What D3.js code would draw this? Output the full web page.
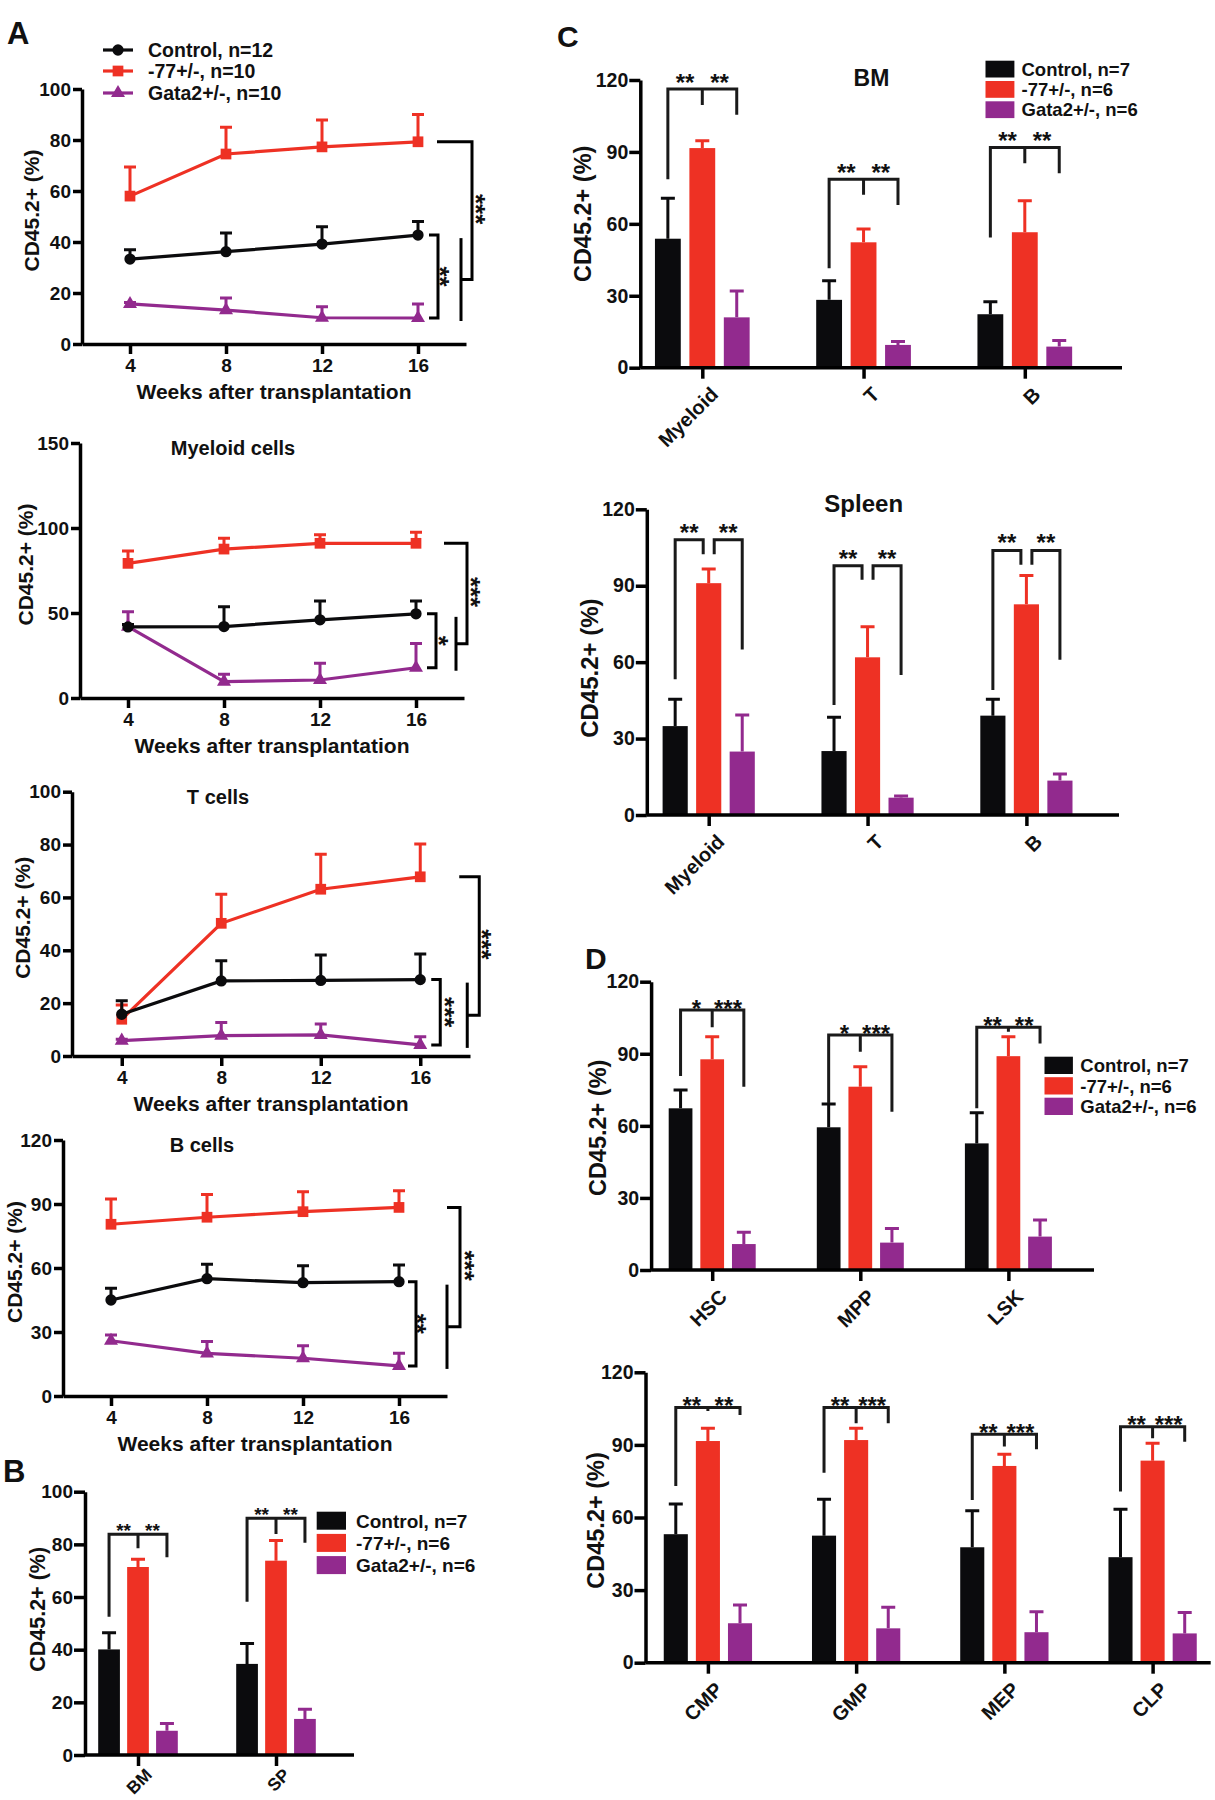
<!DOCTYPE html>
<html>
<head>
<meta charset="utf-8">
<script src="https://cdn.jsdelivr.net/npm/d3@7"></script>
<style>
  body { margin: 0; background: #fff; }
  svg { display: block; }
</style>
</head>
<body>
<svg id="fig" width="1215" height="1800"></svg>
<script>
// ---- data ----
const weeks = [4, 8, 12, 16];
const groupColors = ["#0b0b0d", "#ee3124", "#922a8e"];
const lineLegend = ["Control, n=12", "-77+/-, n=10", "Gata2+/-, n=10"];
const barLegend = ["Control, n=7", "-77+/-, n=6", "Gata2+/-, n=6"];

// A, rows = Control, -77+/-, Gata2+/-
const totalMean = [[33.3, 36.2, 39.2, 42.7], [58, 74.5, 77.3, 79.3], [15.7, 13.3, 10.3, 10.2]];
const totalSem = [[3.7, 7.3, 6.8, 5.3], [11.4, 10.5, 10.5, 10.7], [0.6, 4.7, 4.3, 5.5]];
const myeloidMean = [[41.8, 42, 46, 49.5], [79.2, 87.6, 91, 91], [42, 9.6, 10.6, 17.8]];
const myeloidSem = [[1.5, 11.7, 11, 7.5], [7.3, 6.4, 5, 6.5], [8.8, 4.4, 9.8, 14.2]];
const tMean = [[15.8, 28.4, 28.6, 28.9], [13.9, 50.2, 63.1, 67.8], [5.8, 7.7, 8, 4.2]];
const tSem = [[5.1, 7.6, 9.6, 9.7], [5.4, 11, 13.2, 12.4], [0.5, 5, 4.1, 3.1]];
const bMean = [[45, 55, 53.1, 53.6], [80.5, 83.8, 86.4, 88.4], [25.9, 20, 17.7, 14.1]];
const bSem = [[5.5, 6.7, 8, 7.8], [11.8, 10.7, 9.4, 7.8], [2.7, 5.5, 5.9, 5.9]];

// B
const organCats = ["BM", "SP"];
const organMean = [[40.1, 34.6], [71.4, 73.8], [9.2, 13.7]];
const organSem = [[6.3, 7.7], [2.9, 7.7], [2.8, 3.7]];
// brackets: [top, left leg end, middle leg end, right leg end]
const organSig = [[83.8, 52.5, 78.5, 75.1], [89.9, 58.2, 83.9, 80.6]];
const organStars = [["**", "**"], ["**", "**"]];

// C
const lineageCats = ["Myeloid", "T", "B"];
const bmMean = [[53.8, 28.3, 22.3], [91.6, 52.3, 56.5], [21, 9.5, 8.8]];
const bmSem = [[16.9, 8, 5.2], [3.1, 5.5, 13.1], [11, 1.4, 2.5]];
const bmSig = [[116.2, 78.6, 109.6, 105.5], [78.6, 41.5, 72.1, 67.9], [91.8, 54.3, 85.3, 81.1]];
const bmStars = [["**", "**"], ["**", "**"], ["**", "**"]];
const spMean = [[34.9, 25.1, 39], [91, 61.9, 82.7], [24.9, 6.8, 13.5]];
const spSem = [[10.5, 13.3, 6.4], [5.6, 12, 11.3], [14.4, 0.7, 2.6]];
const spSig = [[108, 53.3, 102.4, 65], [97.8, 43.2, 92.3, 55], [103.8, 49.1, 98.2, 60.9]];
const spStars = [["**", "**"], ["**", "**"], ["**", "**"]];

// D
const stemCats = ["HSC", "MPP", "LSK"];
const stemMean = [[67.3, 59.4, 52.7], [87.7, 76.3, 89], [10.8, 11.4, 13.9]];
const stemSem = [[7.6, 9.7, 12.8], [9.4, 8.3, 8.1], [4.9, 5.9, 6.9]];
const stemSig = [[108.2, 80.7, 101, 76.3], [97.8, 69.4, 90.8, 65.9], [101, 67.3, 99.2, 94.3]];
const stemStars = [["*", "***"], ["*", "***"], ["**", "**"]];
const progCats = ["CMP", "GMP", "MEP", "CLP"];
const progMean = [[53.1, 52.5, 47.7, 43.6], [91.6, 92, 81.3, 83.5], [16.3, 14.2, 12.6, 12.1]];
const progSem = [[12.5, 15, 15.1, 19.8], [5.3, 4.9, 4.8, 7.2], [7.5, 8.7, 8.5, 8.6]];
const progSig = [[105.5, 73, 104, 102.4], [105.5, 78.5, 98.9, 98.9], [94.4, 67.2, 89.3, 88.2], [97.5, 70.7, 92.7, 91.3]];
const progStars = [["**", "**"], ["**", "***"], ["**", "***"], ["**", "***"]];

// ---- drawing ----
const FONT = '"Liberation Sans", Arial, sans-serif';
const INK = "#111";
const svg = d3.select("#fig");

function styleAxis(g, size) {
  g.attr("font-size", null).attr("font-family", null);
  g.select(".domain").attr("stroke", "#000").attr("stroke-width", 3.5);
  g.selectAll(".tick line").attr("stroke", "#000").attr("stroke-width", 3.5);
  g.selectAll(".tick text").attr("fill", INK).attr("font-size", size)
    .attr("font-family", FONT).attr("font-weight", "bold");
}

function label(x, y, txt, size, anchor) {
  return svg.append("text").attr("x", x).attr("y", y).text(txt)
    .attr("font-size", size).attr("font-weight", "bold").attr("font-family", FONT)
    .attr("fill", INK).attr("text-anchor", anchor || "start");
}

function yTitle(cx, cy, size) {
  svg.append("text").attr("transform", `translate(${cx},${cy}) rotate(-90)`)
    .attr("text-anchor", "middle").attr("dy", "0.33em")
    .attr("font-size", size).attr("font-weight", "bold").attr("font-family", FONT)
    .attr("fill", INK).text("CD45.2+ (%)");
}

function stars(x, y, txt, size, rotate) {
  svg.append("text").attr("transform", `translate(${x},${y})` + (rotate ? " rotate(90)" : ""))
    .attr("text-anchor", "middle").attr("dy", "0.57em")
    .attr("font-size", size).attr("font-weight", "bold").attr("font-family", FONT)
    .attr("fill", INK).text(txt);
}

const symbols = [d3.symbolCircle, d3.symbolSquare, d3.symbolTriangle];
const symbolSizes = [100, 115, 85];

function lineChart(o) {
  const x = d3.scaleLinear().domain([2, 18]).range([o.left, o.right]);
  const y = d3.scaleLinear().domain([0, o.yMax]).range([o.bottom, o.top]);
  const g = svg.append("g");

  [1, 2, 0].forEach(i => {
    const pts = weeks.map((w, j) => ({ w, m: o.mean[i][j], e: o.sem[i][j] }));
    const s = g.append("g").attr("stroke", groupColors[i]).attr("fill", groupColors[i]);
    s.append("path").datum(pts).attr("fill", "none").attr("stroke-width", 3.2)
      .attr("d", d3.line().x(d => x(d.w)).y(d => y(d.m)));
    s.selectAll(null).data(pts).join("path").attr("fill", "none").attr("stroke-width", 3)
      .attr("d", d => `M${x(d.w)},${y(d.m)}V${y(d.m + d.e)}M${x(d.w) - 6},${y(d.m + d.e)}H${x(d.w) + 6}`);
    s.selectAll(null).data(pts).join("path").attr("stroke", "none")
      .attr("transform", d => `translate(${x(d.w)},${y(d.m)})`)
      .attr("d", d3.symbol(symbols[i], symbolSizes[i]));
  });

  g.append("g").attr("transform", `translate(0,${o.bottom})`)
    .call(d3.axisBottom(x).tickValues(weeks).tickSize(10).tickSizeOuter(0).tickPadding(5))
    .call(styleAxis, 19);
  g.append("g").attr("transform", `translate(${o.left},0)`)
    .call(d3.axisLeft(y).tickValues(o.yTicks).tickSize(9).tickSizeOuter(0).tickPadding(2))
    .call(styleAxis, 19);

  label((x(4) + x(16)) / 2, o.bottom + 55, "Weeks after transplantation", 21, "middle");
  yTitle(o.left + o.titleDx, (o.top + o.bottom) / 2 - 6, 21);
  if (o.title) label(o.titleX, o.top + 12, o.title, 20, "middle");

  // significance brackets at the last time point
  const s = o.sig, xe = x(16);
  const yc = y(o.mean[0][3]), yg = y(o.mean[2][3]), yr = y(o.mean[1][3]);
  const mid = (yc + yg) / 2;
  const br = g.append("g").attr("fill", "none").attr("stroke", "#000").attr("stroke-width", 3);
  br.append("path").attr("d", `M${xe + s.in0},${yc}H${xe + s.in1}V${yg}H${xe + s.in0}`);
  br.append("path").attr("d", `M${xe + s.rail},${yc + 3}V${yg + 3}`);
  br.append("path").attr("d", `M${xe + s.out0},${yr}H${xe + s.out1}V${mid + 3}H${xe + s.rail}`);
  stars(xe + s.inLab, mid, s.inStars, 26, true);
  stars(xe + s.outLab, (yr + mid) / 2, s.outStars, 26, true);
}

function barChart(o) {
  const y = d3.scaleLinear().domain([0, o.yMax]).range([o.bottom, o.top]);
  const x = d3.scalePoint().domain(o.cats).range(o.centers);
  const xs = d3.scaleBand().domain([0, 1, 2]).range([-o.groupW / 2, o.groupW / 2]).paddingInner(0.25);
  const bw = xs.bandwidth();
  const g = svg.append("g");

  [0, 1, 2].forEach(i => {
    const rows = o.cats.map((c, j) => ({ c, m: o.mean[i][j], e: o.sem[i][j] }));
    g.selectAll(null).data(rows).join("path").attr("fill", "none")
      .attr("stroke", groupColors[i]).attr("stroke-width", 3)
      .attr("d", d => {
        const cx = x(d.c) + xs(i) + bw / 2, t = y(d.m + d.e);
        return `M${cx},${y(d.m)}V${t}M${cx - 7},${t}H${cx + 7}`;
      });
    g.selectAll(null).data(rows).join("rect")
      .attr("x", d => x(d.c) + xs(i)).attr("width", bw)
      .attr("y", d => y(d.m)).attr("height", d => y(0) - y(d.m))
      .attr("fill", groupColors[i]);
  });

  g.append("g").attr("transform", `translate(${o.left},0)`)
    .call(d3.axisLeft(y).tickValues(o.yTicks).tickSize(11).tickSizeOuter(0).tickPadding(1))
    .call(styleAxis, o.tickFont);
  const xa = g.append("g").attr("transform", `translate(0,${o.bottom})`)
    .call(d3.axisBottom(x).tickSize(11).tickSizeOuter(0).tickFormat(""))
    .call(styleAxis, o.tickFont);
  xa.select(".domain").attr("d", `M${o.left},0H${o.right}`);
  g.selectAll(null).data(o.cats).join("text")
    .attr("transform", c => `translate(${x(c) + o.labelDx},${o.bottom + o.labelDy}) rotate(-45)`)
    .attr("text-anchor", "end").attr("font-size", o.labelFont).attr("font-weight", "bold")
    .attr("font-family", FONT).attr("fill", INK).text(c => c);

  yTitle(o.left + o.titleDx, (o.top + o.bottom) / 2 + o.titleDy, o.titleFont);

  // significance brackets
  const br = g.append("g").attr("fill", "none").attr("stroke", "#1a1a1a").attr("stroke-width", 3);
  o.cats.forEach((c, j) => {
    const [top, l, m, r] = o.sig[j];
    const xl = x(c) + xs(0) + bw / 2, xm = x(c) + xs(1) + bw / 2, xr = x(c) + xs(2) + bw / 2;
    let s1, s2;
    if (o.split) {
      br.append("path").attr("d", `M${xl},${y(l)}V${y(top)}H${xm - 5.5}V${y(m)}`);
      br.append("path").attr("d", `M${xm + 5.5},${y(m)}V${y(top)}H${xr}V${y(r)}`);
      s1 = (xl + xm - 5.5) / 2; s2 = (xm + 5.5 + xr) / 2;
    } else {
      br.append("path").attr("d", `M${xl},${y(l)}V${y(top)}H${xr}V${y(r)}M${xm},${y(top)}V${y(m)}`);
      s1 = (xl + xm) / 2; s2 = (xm + xr) / 2;
    }
    stars(s1, y(top) - o.starGap, o.stars[j][0], o.starFont, false);
    stars(s2, y(top) - o.starGap, o.stars[j][1], o.starFont, false);
  });

  if (o.legend) {
    const L = o.legend;
    barLegend.forEach((t, i) => {
      const ty = L.y + i * L.step;
      svg.append("rect").attr("x", L.x).attr("y", ty).attr("width", L.w).attr("height", L.h)
        .attr("fill", groupColors[i]);
      label(L.tx, ty + L.h / 2, t, L.size).attr("dy", "0.36em");
    });
  }
}

// ---- panel A ----
label(7, 44, "A", 31);
lineChart({
  mean: totalMean, sem: totalSem, left: 82, right: 466, bottom: 344, top: 89,
  yMax: 100, yTicks: [0, 20, 40, 60, 80, 100], titleDx: -50,
  sig: { in0: 11, in1: 20, inLab: 28, rail: 43, out0: 19, out1: 54, outLab: 64, inStars: "**", outStars: "***" }
});
lineLegend.forEach((t, i) => {
  const ly = [50, 71, 93][i];
  svg.append("path").attr("d", `M103,${ly}H133`).attr("stroke", groupColors[i]).attr("stroke-width", 3.2);
  svg.append("path").attr("transform", `translate(118,${ly})`)
    .attr("d", d3.symbol(symbols[i], symbolSizes[i])).attr("fill", groupColors[i]);
  label(148, ly, t, 19.5).attr("dy", "0.36em");
});
lineChart({
  mean: myeloidMean, sem: myeloidSem, left: 80, right: 464, bottom: 698, top: 443,
  yMax: 150, yTicks: [0, 50, 100, 150], title: "Myeloid cells", titleX: 233, titleDx: -54,
  sig: { in0: 11, in1: 20, inLab: 29, rail: 40, out0: 28, out1: 51, outLab: 61, inStars: "*", outStars: "***" }
});
lineChart({
  mean: tMean, sem: tSem, left: 72, right: 470, bottom: 1056, top: 791.7,
  yMax: 100, yTicks: [0, 20, 40, 60, 80, 100], title: "T cells", titleX: 218, titleDx: -49,
  sig: { in0: 11, in1: 20, inLab: 31, rail: 47, out0: 39, out1: 59, outLab: 68, inStars: "***", outStars: "***" }
});
lineChart({
  mean: bMean, sem: bSem, left: 63, right: 447, bottom: 1396, top: 1140,
  yMax: 120, yTicks: [0, 30, 60, 90, 120], title: "B cells", titleX: 202, titleDx: -48,
  sig: { in0: 9, in1: 17, inLab: 24, rail: 48, out0: 48, out1: 61, outLab: 72, inStars: "**", outStars: "***" }
});

// ---- panel B ----
label(3, 1482, "B", 31);
barChart({
  cats: organCats, mean: organMean, sem: organSem, sig: organSig, stars: organStars,
  left: 85, right: 354, bottom: 1755, top: 1491.7, yMax: 100, yTicks: [0, 20, 40, 60, 80, 100],
  centers: [138, 276], groupW: 79.6, tickFont: 19, labelDx: 15, labelDy: 21, labelFont: 17.5,
  titleFont: 21.5, starGap: 8, starFont: 19, titleDx: -47, titleDy: -14,
  legend: { x: 316.7, y: 1511.7, step: 22.2, w: 29.3, h: 18, tx: 356, size: 19 }
});

// ---- panel C ----
label(557, 46.7, "C", 30);
barChart({
  cats: lineageCats, mean: bmMean, sem: bmSem, sig: bmSig, stars: bmStars,
  left: 640.3, right: 1122, bottom: 367.7, top: 80, yMax: 120, yTicks: [0, 30, 60, 90, 120],
  centers: [702.3, 1024.8], groupW: 94.7, tickFont: 19.5, labelDx: 17, labelDy: 28, labelFont: 20,
  titleFont: 23.5, starGap: 12, starFont: 24, titleDx: -57, titleDy: -10,
  legend: { x: 985.5, y: 60.7, step: 20.3, w: 28.9, h: 16.8, tx: 1021.5, size: 18.5 }
});
label(871.5, 86, "BM", 23, "middle");
barChart({
  cats: lineageCats, mean: spMean, sem: spSem, sig: spSig, stars: spStars, split: true,
  left: 646.8, right: 1119, bottom: 815, top: 509.3, yMax: 120, yTicks: [0, 30, 60, 90, 120],
  centers: [708.7, 1026.4], groupW: 92.2, tickFont: 19.5, labelDx: 17, labelDy: 28, labelFont: 20,
  titleFont: 24, starGap: 13, starFont: 24, titleDx: -57, titleDy: 6
});
label(863.7, 511.7, "Spleen", 24, "middle");

// ---- panel D ----
label(585, 969.3, "D", 30);
barChart({
  cats: stemCats, mean: stemMean, sem: stemSem, sig: stemSig, stars: stemStars,
  left: 651.1, right: 1094, bottom: 1270, top: 981.7, yMax: 120, yTicks: [0, 30, 60, 90, 120],
  centers: [712.2, 1008.4], groupW: 87, tickFont: 19.5, labelDx: 16, labelDy: 28, labelFont: 20,
  titleFont: 23.5, starGap: 7, starFont: 24, titleDx: -53, titleDy: 2,
  legend: { x: 1044.5, y: 1056.7, step: 20.5, w: 28.4, h: 17.3, tx: 1080.3, size: 18.5 }
});
barChart({
  cats: progCats, mean: progMean, sem: progSem, sig: progSig, stars: progStars,
  left: 645.5, right: 1210.7, bottom: 1662.7, top: 1372.3, yMax: 120, yTicks: [0, 30, 60, 90, 120],
  centers: [707.9, 1152.6], groupW: 88.3, tickFont: 19.5, labelDx: 16, labelDy: 28, labelFont: 20,
  titleFont: 23.5, starGap: 7, starFont: 24, titleDx: -49.5, titleDy: 3
});
</script>
</body>
</html>
